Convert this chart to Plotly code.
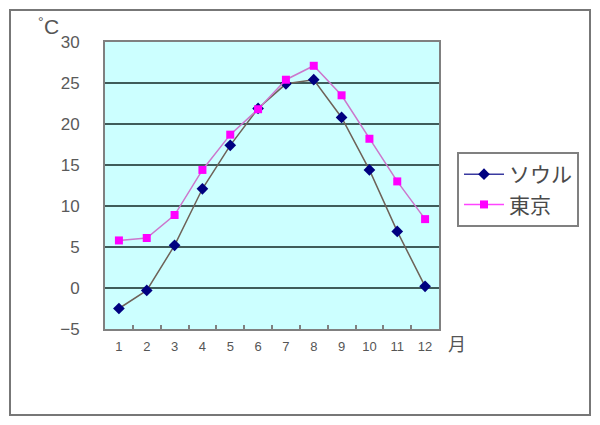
import plotly.graph_objects as go

months = ["1", "2", "3", "4", "5", "6", "7", "8", "9", "10", "11", "12"]
seoul = [-2.5, -0.3, 5.2, 12.1, 17.4, 21.9, 24.9, 25.4, 20.8, 14.4, 6.9, 0.2]
tokyo = [5.8, 6.1, 8.9, 14.4, 18.7, 21.8, 25.4, 27.1, 23.5, 18.2, 13.0, 8.4]
y_ticks = [-5, 0, 5, 10, 15, 20, 25, 30]

FONT = "Liberation Sans, Arial, Noto Sans CJK JP, sans-serif"
JP = "Noto Sans CJK JP, sans-serif"

# page body has an 8px default margin; size the figure to fit the window
W, H = 592, 417
L, T, PW, PH = 97, 34, 334, 287
WX0, WY1 = 105, 329  # plot left / bottom in window pixels


def px(xw):
    return (xw - WX0) / PW


def py(yw):
    return (WY1 - yw) / PH


fig = go.Figure()
fig.add_trace(go.Scatter(
    x=months, y=seoul, name="ソウル", mode="lines+markers", showlegend=False,
    line=dict(color="#6e6258", width=1.5),
    marker=dict(symbol="diamond", size=9, color="#000080"),
))
fig.add_trace(go.Scatter(
    x=months, y=tokyo, name="東京", mode="lines+markers", showlegend=False,
    line=dict(color="#cc77cc", width=1.5),
    marker=dict(symbol="square", size=8, color="#ff00ff"),
))
# legend entries
fig.add_trace(go.Scatter(
    x=[None], y=[None], name="ソウル", mode="lines+markers",
    line=dict(color="#3a3aa0", width=1.5),
    marker=dict(symbol="diamond", size=9, color="#000080"),
))
fig.add_trace(go.Scatter(
    x=[None], y=[None], name="東京", mode="lines+markers",
    line=dict(color="#ff44ff", width=1.5),
    marker=dict(symbol="square", size=8, color="#ff00ff"),
))

fig.update_layout(
    width=W, height=H,
    margin=dict(l=L, r=W - L - PW, t=T, b=H - T - PH),
    paper_bgcolor="white",
    plot_bgcolor="#ccffff",
    font=dict(family=FONT, color="#555555"),
    showlegend=True,
    legend=dict(
        x=px(457), y=py(152), xanchor="left", yanchor="top",
        bordercolor="#808080", borderwidth=2, bgcolor="white",
        font=dict(size=21, color="#4a4a4a", family=JP),
        tracegroupgap=0, itemwidth=40,
    ),
    xaxis=dict(
        type="category", tickson="boundaries", ticks="inside", ticklen=4,
        tickcolor="#808080", tickwidth=1.5,
        showgrid=False, showline=True, linecolor="#808080", linewidth=2,
        mirror=True, tickfont=dict(size=13, color="#555555"),
        ticklabelstandoff=4,
        range=[-0.5, 11.5],
    ),
    yaxis=dict(
        range=[-5, 30], tickvals=y_ticks, ticks="",
        showgrid=True, gridcolor="#3f5c5a", gridwidth=1.5,
        zeroline=True, zerolinecolor="#3f5c5a", zerolinewidth=1.5,
        showline=True, linecolor="#808080", linewidth=2, mirror=True,
        tickfont=dict(size=17, color="#5a5a5a"),
        ticklabelstandoff=20,
    ),
    shapes=[dict(
        type="rect", xref="paper", yref="paper",
        x0=px(10), x1=px(590),
        y0=py(415), y1=py(10),
        line=dict(color="#777777", width=2), fillcolor="rgba(0,0,0,0)",
        layer="above",
    )],
    annotations=[
        dict(text="°", xref="paper", yref="paper", x=px(41), y=py(22),
             xanchor="center", yanchor="middle",
             showarrow=False, font=dict(size=14, color="#555555", family=FONT)),
        dict(text="C", xref="paper", yref="paper", x=px(51), y=py(27),
             xanchor="center", yanchor="middle",
             showarrow=False, font=dict(size=21, color="#555555", family=FONT)),
        dict(text="月", xref="paper", yref="paper", x=px(457), y=py(343),
             xanchor="center", yanchor="middle",
             showarrow=False, font=dict(size=18, color="#555555", family=JP)),
    ],
)

fig.write_html("out.html")
